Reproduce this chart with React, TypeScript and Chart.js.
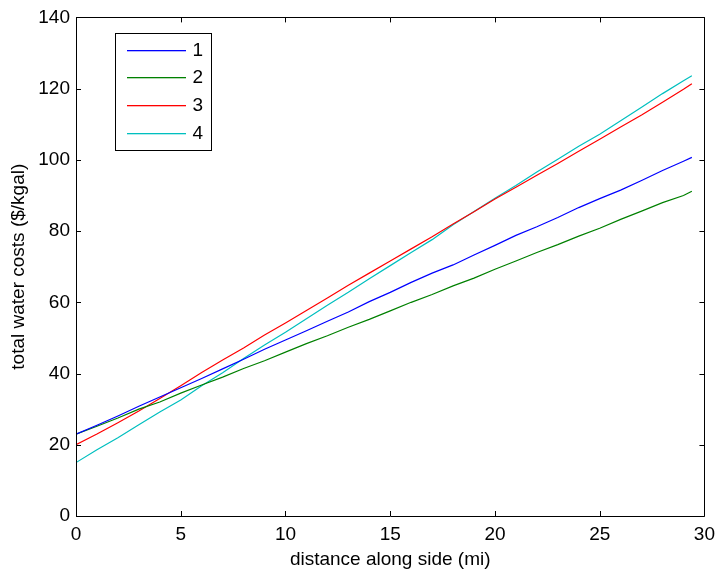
import React, { useEffect, useRef } from "react";
import { Chart, registerables } from "chart.js";

Chart.register(...registerables);

const distance = [0, 1, 2, 3, 4, 5, 6, 7, 8, 9, 10, 11, 12, 13, 14, 15, 16, 17, 18, 19, 20, 21, 22, 23, 24, 25, 26, 27, 28, 29, 29.4];
const series1 = [23.0, 25.5, 28.1, 30.8, 33.4, 36.0, 38.6, 41.3, 44.0, 46.8, 49.4, 52.0, 54.7, 57.3, 60.2, 62.8, 65.6, 68.2, 70.5, 73.3, 76.0, 78.8, 81.2, 83.8, 86.6, 89.1, 91.5, 94.2, 97.0, 99.6, 100.7];
const series2 = [23.0, 25.2, 27.5, 30.0, 32.0, 34.5, 36.8, 39.0, 41.4, 43.6, 46.0, 48.4, 50.6, 53.0, 55.2, 57.6, 60.0, 62.2, 64.6, 66.8, 69.3, 71.6, 74.0, 76.2, 78.6, 80.8, 83.3, 85.6, 88.0, 90.0, 91.2];
const series3 = [20.0, 23.0, 26.2, 29.5, 33.0, 36.6, 40.3, 43.8, 47.2, 50.8, 54.2, 57.7, 61.2, 64.8, 68.2, 71.6, 75.0, 78.4, 82.0, 85.4, 89.0, 92.3, 95.7, 99.0, 102.4, 105.8, 109.2, 112.6, 116.2, 119.8, 121.4];
const series4 = [15.0, 18.6, 22.0, 25.6, 29.2, 32.6, 36.6, 40.2, 44.2, 48.0, 51.6, 55.4, 59.2, 62.8, 66.6, 70.3, 74.0, 77.6, 81.8, 85.5, 89.2, 92.8, 96.6, 100.2, 103.8, 107.2, 111.0, 114.8, 118.6, 122.2, 123.6];
const seriesLabels = ["1", "2", "3", "4"];
const seriesColors = ["#0000ff", "#008000", "#ff0000", "#00bfbf"];
const xTitle = "distance along side (mi)";
const yTitle = "total water costs ($/kgal)";

const FONT = "'Liberation Sans', Arial, Helvetica, sans-serif";
const FS = 19;

const boxPlugin = {
  id: "matlabBox",
  afterDatasetsDraw(chart: any) {
    const { ctx, chartArea, scales } = chart;
    const { left, right, top, bottom } = chartArea;
    ctx.save();
    ctx.strokeStyle = "#000";
    ctx.lineWidth = 1;
    const tl = 5;
    ctx.beginPath();
    ctx.rect(Math.round(left) + 0.5, Math.round(top) + 0.5, Math.round(right - left), Math.round(bottom - top));
    ctx.stroke();
    ctx.beginPath();
    scales.x.ticks.forEach((t: any) => {
      const px = Math.round(scales.x.getPixelForValue(t.value)) + 0.5;
      ctx.moveTo(px, bottom);
      ctx.lineTo(px, bottom - tl);
      ctx.moveTo(px, top);
      ctx.lineTo(px, top + tl);
    });
    scales.y.ticks.forEach((t: any) => {
      const py = Math.round(scales.y.getPixelForValue(t.value)) + 0.5;
      ctx.moveTo(left, py);
      ctx.lineTo(left + tl, py);
      ctx.moveTo(right, py);
      ctx.lineTo(right - tl, py);
    });
    ctx.stroke();

    // legend
    const lx = Math.round(left) + 39.5;
    const ly = Math.round(top) + 16.5;
    const lw = 96;
    const lh = 117;
    ctx.fillStyle = "#fff";
    ctx.fillRect(lx, ly, lw, lh);
    ctx.strokeStyle = "#000";
    ctx.strokeRect(lx, ly, lw, lh);
    ctx.font = `${FS}px ${FONT}`;
    ctx.textBaseline = "middle";
    ctx.textAlign = "left";
    chart.data.datasets.forEach((ds: any, i: number) => {
      const y = Math.round(ly + 16 + i * 27.7);
      ctx.fillStyle = seriesColors[i];
      ctx.fillRect(Math.round(lx + 11), y, 59, 1.3);
      ctx.fillStyle = "#000";
      ctx.fillText(ds.label, lx + 77, y + 1);
    });
    ctx.restore();
  },
};

export default function App() {
  const ref = useRef<HTMLCanvasElement | null>(null);
  useEffect(() => {
    if (!ref.current) return;
    const all = [series1, series2, series3, series4];
    const chart = new Chart(ref.current, {
      type: "line",
      data: {
        datasets: all.map((s, i) => ({
          label: seriesLabels[i],
          data: s.map((v, j) => ({ x: distance[j], y: v })),
          borderColor: seriesColors[i],
          backgroundColor: seriesColors[i],
          borderWidth: 1.2,
          pointRadius: 0,
          tension: 0,
          fill: false,
        })),
      },
      options: {
        responsive: false,
        animation: false,
        layout: { padding: { left: 0, right: 11, top: 16, bottom: 0 } },
        plugins: { legend: { display: false }, tooltip: { enabled: false } },
        scales: {
          x: {
            type: "linear",
            min: 0,
            max: 30,
            grid: { display: false, drawTicks: false },
            border: { display: false },
            ticks: { stepSize: 5, padding: 7, color: "#000", font: { family: FONT, size: FS }, maxRotation: 0 },
            title: { display: true, text: xTitle, color: "#000", font: { family: FONT, size: FS }, padding: { top: 0, bottom: 0 } },
            afterFit: (s: any) => { s.height = 55; },
          },
          y: {
            type: "linear",
            min: 0,
            max: 140,
            grid: { display: false, drawTicks: false },
            border: { display: false },
            ticks: { stepSize: 20, padding: 6, color: "#000", font: { family: FONT, size: FS } },
            title: { display: true, text: yTitle, color: "#000", font: { family: FONT, size: FS }, padding: { top: 7, bottom: 0 } },
            afterFit: (s: any) => { s.width = 76; },
          },
        },
      },
      plugins: [boxPlugin],
    });
    return () => chart.destroy();
  }, []);
  return (
    <div style={{ position: "absolute", left: 0, top: 0, width: 722, height: 571, background: "#fff" }}>
      <canvas ref={ref} width={722} height={571} />
    </div>
  );
}
